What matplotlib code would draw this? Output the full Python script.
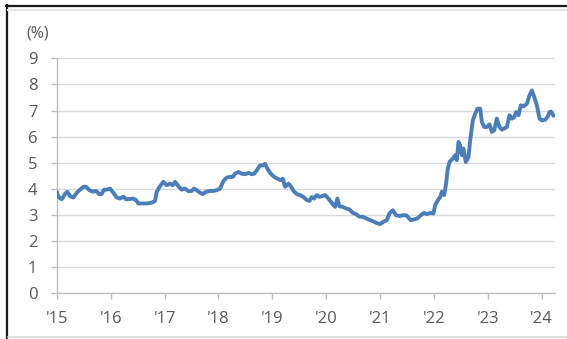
import matplotlib
matplotlib.use("Agg")
import matplotlib.pyplot as plt
from matplotlib.lines import Line2D

# Decimal-year positions and rate values (%)
years = [
    2015.00, 2015.028, 2015.09, 2015.152, 2015.196, 2015.245, 2015.307, 2015.369, 2015.431, 2015.493,
    2015.542, 2015.604, 2015.666, 2015.728, 2015.790, 2015.833, 2015.877, 2015.926, 2015.988, 2016.050,
    2016.112, 2016.174, 2016.236, 2016.285, 2016.347, 2016.409, 2016.471, 2016.514, 2016.576, 2016.669,
    2016.762, 2016.824, 2016.855, 2016.917, 2016.978, 2017.040, 2017.102, 2017.152, 2017.195, 2017.257,
    2017.319, 2017.381, 2017.443, 2017.505, 2017.548, 2017.598, 2017.660, 2017.709, 2017.771, 2017.846,
    2017.908, 2017.970, 2018.031, 2018.093, 2018.155, 2018.217, 2018.267, 2018.310, 2018.372, 2018.434,
    2018.496, 2018.558, 2018.620, 2018.663, 2018.713, 2018.775, 2018.837, 2018.867, 2018.911, 2018.973,
    2019.035, 2019.096, 2019.158, 2019.196, 2019.239, 2019.301, 2019.344, 2019.394, 2019.456, 2019.518,
    2019.579, 2019.641, 2019.690, 2019.734, 2019.777, 2019.827, 2019.876, 2019.919, 2019.981, 2020.043,
    2020.105, 2020.167, 2020.210, 2020.248, 2020.310, 2020.372, 2020.433, 2020.495, 2020.557, 2020.619,
    2020.681, 2020.743, 2020.817, 2020.892, 2020.954, 2021.003, 2021.065, 2021.127, 2021.177, 2021.238,
    2021.300, 2021.362, 2021.424, 2021.486, 2021.529, 2021.573, 2021.635, 2021.697, 2021.758, 2021.820,
    2021.870, 2021.932, 2021.994, 2022.025, 2022.068, 2022.118, 2022.149, 2022.192, 2022.229, 2022.254,
    2022.291, 2022.353, 2022.396, 2022.427, 2022.458, 2022.489, 2022.520, 2022.551, 2022.594, 2022.644,
    2022.675, 2022.724, 2022.768, 2022.811, 2022.861, 2022.892, 2022.935, 2022.985, 2023.034, 2023.077,
    2023.121, 2023.170, 2023.220, 2023.263, 2023.306, 2023.356, 2023.406, 2023.449, 2023.492, 2023.529,
    2023.573, 2023.616, 2023.666, 2023.728, 2023.777, 2023.821, 2023.864, 2023.913, 2023.963, 2024.006,
    2024.068, 2024.111, 2024.149, 2024.175, 2024.200, 2024.222,
]
rates = [
    3.89, 3.70, 3.60, 3.80, 3.89, 3.72, 3.67, 3.85, 3.97, 4.08,
    4.08, 3.95, 3.89, 3.92, 3.80, 3.80, 3.97, 3.97, 4.01, 3.85,
    3.67, 3.63, 3.70, 3.60, 3.61, 3.63, 3.57, 3.44, 3.44, 3.44,
    3.47, 3.54, 3.89, 4.10, 4.27, 4.14, 4.20, 4.14, 4.27, 4.10,
    3.97, 4.01, 3.91, 3.92, 4.01, 3.95, 3.85, 3.80, 3.89, 3.92,
    3.92, 3.95, 4.01, 4.30, 4.43, 4.46, 4.46, 4.58, 4.65, 4.58,
    4.56, 4.61, 4.56, 4.58, 4.71, 4.90, 4.90, 4.96, 4.77, 4.58,
    4.46, 4.39, 4.33, 4.39, 4.08, 4.20, 4.10, 3.92, 3.80, 3.76,
    3.69, 3.57, 3.54, 3.69, 3.63, 3.76, 3.69, 3.72, 3.76, 3.63,
    3.46, 3.31, 3.63, 3.33, 3.31, 3.25, 3.21, 3.08, 3.03, 2.93,
    2.93, 2.87, 2.80, 2.74, 2.68, 2.65, 2.74, 2.80, 3.06, 3.18,
    2.99, 2.96, 2.99, 2.99, 2.90, 2.80, 2.83, 2.87, 2.99, 3.08,
    3.03, 3.08, 3.06, 3.38, 3.54, 3.69, 3.89, 3.76, 4.20, 4.71,
    5.03, 5.16, 5.29, 5.10, 5.80, 5.67, 5.29, 5.54, 5.03, 5.22,
    5.86, 6.62, 6.88, 7.07, 7.07, 6.56, 6.37, 6.37, 6.47, 6.18,
    6.24, 6.69, 6.37, 6.27, 6.31, 6.37, 6.82, 6.69, 6.75, 6.94,
    6.82, 7.20, 7.16, 7.26, 7.58, 7.77, 7.52, 7.20, 6.69, 6.62,
    6.65, 6.75, 6.94, 6.96, 6.88, 6.80,
]
year_ticks = [2015, 2016, 2017, 2018, 2019, 2020, 2021, 2022, 2023, 2024]
year_labels = ["'15", "'16", "'17", "'18", "'19", "'20", "'21", "'22", "'23", "'24"]
y_ticks = list(range(0, 10))

W, H = 567, 339
fig = plt.figure(figsize=(W / 100, H / 100), dpi=100)
fig.patch.set_facecolor("white")

left, right = 56.8 / W, 555 / W
bottom, top = 1 - 293.3 / H, 1 - 58.3 / H
ax = fig.add_axes([left, bottom, right - left, top - bottom])

text_color = "#595959"
font = ["Open Sans", "DejaVu Sans"]

ax.plot(years, rates, color="#4a7ebb", lw=2.8, solid_joinstyle="round",
        solid_capstyle="round", zorder=3)

ax.set_xlim(2015, 2024.25)
ax.set_ylim(0, 9)
ax.set_yticks(y_ticks)
ax.set_xticks(year_ticks)
ax.set_xticklabels(year_labels)

ax.grid(axis="y", color="#d9d9d9", lw=1.0, zorder=0)
ax.grid(axis="x", visible=False)
for s in ["top", "right"]:
    ax.spines[s].set_visible(False)
for s in ["left", "bottom"]:
    ax.spines[s].set_color("#bfbfbf")
    ax.spines[s].set_linewidth(1.0)

ax.tick_params(axis="both", colors="#bfbfbf", length=4.5, width=1.0,
               labelcolor=text_color, labelsize=12)
ax.tick_params(axis="y", pad=9.5)
ax.tick_params(axis="x", pad=8)
for lab in ax.get_xticklabels() + ax.get_yticklabels():
    lab.set_family(font)

fig.text(37.5 / W, 1 - 34 / H, "(%)", ha="center", va="center",
         color=text_color, fontsize=11.5, family=font)

# frame lines of the screenshot
fig.add_artist(Line2D([7 / W, 7 / W], [0, 1 - 5 / H], color="#1a1a1a", lw=1.6,
                      transform=fig.transFigure))
fig.add_artist(Line2D([6 / W, 1], [1 - 5.5 / H, 1 - 5.5 / H], color="#1a1a1a", lw=1.6,
                      transform=fig.transFigure))
fig.add_artist(Line2D([8 / W, 1], [1 - 10 / H, 1 - 10 / H], color="#e3e3e3", lw=1.5,
                      transform=fig.transFigure))
fig.add_artist(Line2D([8 / W, 1], [1 - 337 / H, 1 - 337 / H], color="#d9d9d9", lw=1.2,
                      transform=fig.transFigure))

fig.savefig("out.png", dpi=100, facecolor="white")
